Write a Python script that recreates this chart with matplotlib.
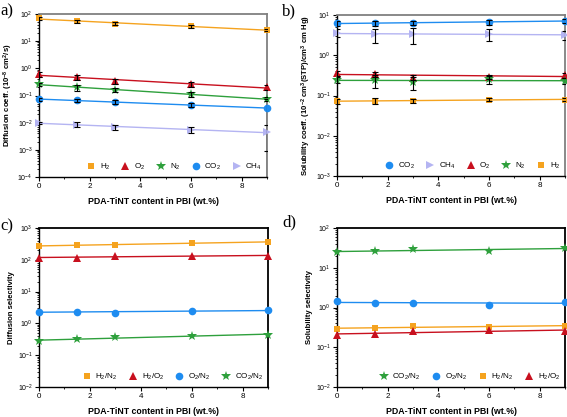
import numpy as np
import matplotlib
matplotlib.use("Agg")
import matplotlib.pyplot as plt
from matplotlib.ticker import LogLocator, MultipleLocator, NullFormatter

plt.rcParams['font.family'] = ['Liberation Sans', 'DejaVu Sans']
plt.rcParams['mathtext.default'] = 'regular'

x = [0, 1.5, 3, 6, 9]

# Panel a: diffusion coefficients
D_H2 = [70, 54, 44, 35, 26]
D_O2 = [0.6, 0.47, 0.34, 0.26, 0.2]
D_N2 = [0.26, 0.2, 0.16, 0.11, 0.074]
D_CO2 = [0.072, 0.066, 0.058, 0.045, 0.034]
D_CH4 = [0.0098, 0.0085, 0.0068, 0.0055, 0.0044]
D_H2_err = [8, 6, 6, 4, 3]
D_O2_err = [0.12, 0.1, 0.08, 0.06, 0.04]
D_N2_err = [0.04, 0.05, 0.03, 0.02, 0.012]
D_CO2_err = [0.008, 0.008, 0.008, 0.008, 0.04]
D_CH4_err = [0.0012, 0.0018, 0.0016, 0.0015, 0.0035]

# Panel b: solubility coefficients
S_CO2 = [6.2, 6.3, 6.4, 6.6, 7.2]
S_CH4 = [3.6, 3.3, 3.3, 3.4, 3.2]
S_O2 = [0.36, 0.34, 0.28, 0.29, 0.32]
S_N2 = [0.245, 0.24, 0.215, 0.25, 0.23]
S_H2 = [0.071, 0.075, 0.074, 0.079, 0.079]
S_CO2_err = [0.9, 1.0, 0.9, 0.8, 0.7]
S_CH4_err = [0.8, 1.3, 1.4, 1.1, 0.8]
S_O2_err = [0.05, 0.05, 0.04, 0.04, 0.04]
S_N2_err = [0.04, 0.09, 0.08, 0.06, 0.04]
S_H2_err = [0.01, 0.012, 0.01, 0.008, 0.008]

# Panel c: diffusion selectivity
DS_H2N2 = [270, 290, 300, 340, 360]
DS_H2O2 = [117, 118, 130, 132, 135]
DS_O2N2 = [2.3, 2.35, 2.2, 2.4, 2.6]
DS_CO2N2 = [0.28, 0.32, 0.37, 0.41, 0.44]

# Panel d: solubility selectivity
SS_CO2N2 = [25, 26, 29.5, 27, 31]
SS_O2N2 = [1.42, 1.33, 1.27, 1.18, 1.38]
SS_H2N2 = [0.29, 0.31, 0.34, 0.32, 0.35]
SS_H2O2 = [0.2, 0.22, 0.26, 0.27, 0.25]

C_H2 = '#F5A31F'
C_O2 = '#C8101E'
C_N2 = '#2EA03C'
C_CO2 = '#1E8CF0'
C_CH4 = '#B4B4F2'

fig = plt.figure(figsize=(5.67, 4.17), dpi=100)
W, H = 567, 417


def make_ax(l, r, t, b):
    return fig.add_axes([l / W, 1 - b / H, (r - l) / W, (b - t) / H])


def style(ax, ylim, ylabel, gray=True):
    ax.set_yscale('log')
    ax.set_xlim(0, 9)
    ax.set_ylim(*ylim)
    ax.xaxis.set_major_locator(MultipleLocator(2))
    ax.xaxis.set_minor_locator(MultipleLocator(1))
    ax.yaxis.set_major_locator(LogLocator(base=10, numticks=20))
    ax.yaxis.set_minor_locator(LogLocator(base=10, subs=np.arange(2, 10), numticks=20))
    ax.yaxis.set_minor_formatter(NullFormatter())
    ax.tick_params(axis='both', which='major', direction='out', length=3, width=0.8,
                   labelsize=5.8, pad=1.5, top=False, right=False)
    ax.tick_params(axis='both', which='minor', direction='out', length=1.6, width=0.6,
                   top=False, right=False)
    ax.tick_params(axis='y', which='major', labelsize=5)
    for s in ['left', 'bottom']:
        ax.spines[s].set_color('black')
        ax.spines[s].set_linewidth(1.0)
    for s in ['top', 'right']:
        ax.spines[s].set_color('#808080' if gray else 'black')
        ax.spines[s].set_linewidth(1.3)
    ax.set_xlabel('PDA-TiNT content in PBI (wt.%)', fontsize=6.3, fontweight='bold', labelpad=5)
    ax.set_ylabel(ylabel, fontsize=5.6, fontweight='bold', labelpad=2)


def series(ax, y, color, marker, label, err=None, ms=5.5):
    xa = np.array(x, dtype=float)
    ya = np.array(y, dtype=float)
    k, c = np.polyfit(xa, np.log10(ya), 1)
    xf = np.array([0, 9.0])
    ax.plot(xf, 10 ** (k * xf + c), color=color, lw=1.0, zorder=2)
    ax.plot(xa, ya, linestyle='none', marker=marker, color=color, ms=ms,
            markeredgewidth=0, label=label, zorder=4, clip_on=False)
    if err is not None:
        ax.errorbar(xa, ya, yerr=err, fmt='none', ecolor='black', elinewidth=0.8,
                    capsize=2, capthick=0.8, zorder=5)


def legend(ax):
    ax.legend(loc='lower right', ncol=5, frameon=False, fontsize=5.8, handlelength=1.0,
              handletextpad=0.6, columnspacing=1.4, borderaxespad=0.2, markerscale=1.0)


# a
axa = make_ax(39, 267, 14, 177)
series(axa, D_H2, C_H2, 's', 'H$_2$', D_H2_err, 5)
series(axa, D_O2, C_O2, '^', 'O$_2$', D_O2_err, 6)
series(axa, D_N2, C_N2, '*', 'N$_2$', D_N2_err, 7)
series(axa, D_CO2, C_CO2, 'o', 'CO$_2$', D_CO2_err)
series(axa, D_CH4, C_CH4, '>', 'CH$_4$', D_CH4_err, 6)
style(axa, (1e-4, 1e2), 'Diffusion coeff. (10$^{-8}$ cm$^2$/s)')
legend(axa)

# b
axb = make_ax(337, 565, 15, 176)
series(axb, S_CO2, C_CO2, 'o', 'CO$_2$', S_CO2_err)
series(axb, S_CH4, C_CH4, '>', 'CH$_4$', S_CH4_err, 6)
series(axb, S_O2, C_O2, '^', 'O$_2$', S_O2_err, 6)
series(axb, S_N2, C_N2, '*', 'N$_2$', S_N2_err, 7)
series(axb, S_H2, C_H2, 's', 'H$_2$', S_H2_err, 5)
style(axb, (1e-3, 1e1), 'Solubility coeff. (10$^{-2}$ cm$^3$(STP)/cm$^3$ cm Hg)')
legend(axb)

# c
axc = make_ax(39, 268, 228, 387)
series(axc, DS_H2N2, C_H2, 's', 'H$_2$/N$_2$', None, 5)
series(axc, DS_H2O2, C_O2, '^', 'H$_2$/O$_2$', None, 6)
series(axc, DS_O2N2, C_CO2, 'o', 'O$_2$/N$_2$')
series(axc, DS_CO2N2, C_N2, '*', 'CO$_2$/N$_2$', None, 7)
style(axc, (1e-2, 1e3), 'Diffusion selectivity', gray=False)
legend(axc)

# d
axd = make_ax(337, 565, 228, 387)
series(axd, SS_CO2N2, C_N2, '*', 'CO$_2$/N$_2$', None, 7)
series(axd, SS_O2N2, C_CO2, 'o', 'O$_2$/N$_2$')
series(axd, SS_H2N2, C_H2, 's', 'H$_2$/N$_2$', None, 5)
series(axd, SS_H2O2, C_O2, '^', 'H$_2$/O$_2$', None, 6)
style(axd, (1e-2, 1e2), 'Solubility selectivity', gray=False)
legend(axd)

panel_labels = [('a)', 0, 3), ('b)', 282, 3), ('c)', 0, 218), ('d)', 282, 214)]
for lab, px, py in panel_labels:
    fig.text(px / W, 1 - py / H, lab, fontsize=12, family='Liberation Serif', va='top', ha='left')

fig.savefig('out.png', dpi=100)
